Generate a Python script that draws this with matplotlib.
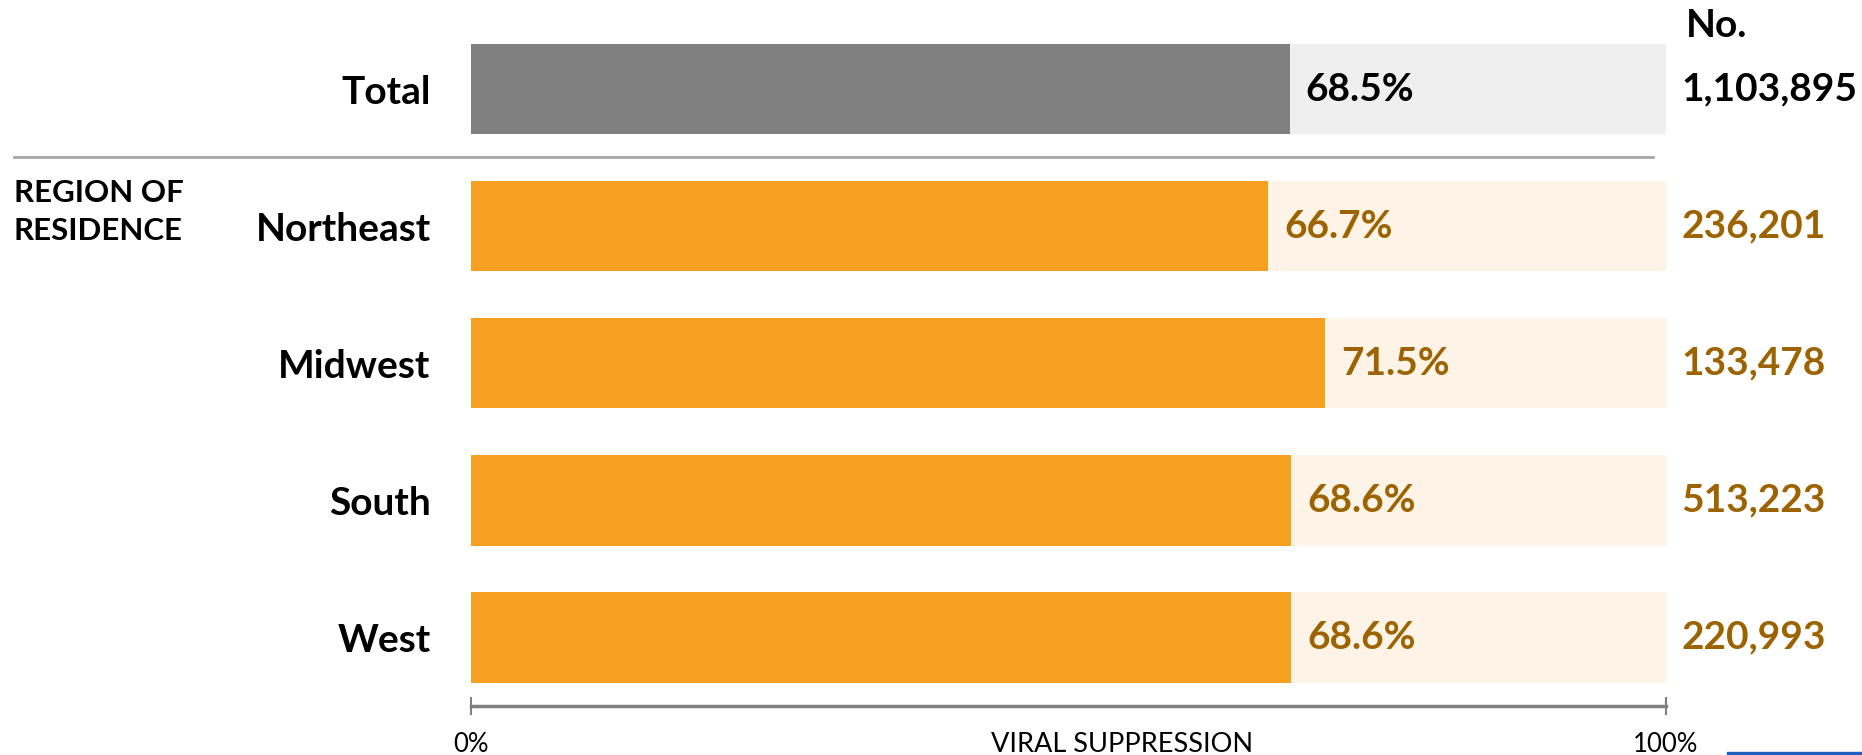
import matplotlib
matplotlib.use("Agg")
import matplotlib.pyplot as plt
from matplotlib.lines import Line2D
from matplotlib.patches import Rectangle

plt.rcParams['font.family'] = ['Lato', 'DejaVu Sans']

categories = ['Total', 'Northeast', 'Midwest', 'South', 'West']
suppression = [68.5, 66.7, 71.5, 68.6, 68.6]
counts = [1103895, 236201, 133478, 513223, 220993]

gray, gray_bg = '#808080', '#efefef'
orange, orange_bg, orange_txt = '#f5a020', '#fdf3e7', '#9c6300'

fig = plt.figure(figsize=(18.62, 7.55), dpi=100)
ax = fig.add_axes([471 / 1862, 1 - 706 / 755, 1195 / 1862, (706 - 20.5) / 755])

ypos = list(range(len(categories)))
for i, (cat, val, n) in enumerate(zip(categories, suppression, counts)):
    main = gray if i == 0 else orange
    bg = gray_bg if i == 0 else orange_bg
    txt = 'black' if i == 0 else orange_txt
    ax.barh(i, 100, height=0.66, color=bg, zorder=1)
    ax.barh(i, val, height=0.66, color=main, zorder=2)
    ax.text(val + 1.35, i, f'{val:.1f}%', va='center', ha='left',
            fontsize=28, fontweight='bold', color=txt)
    ax.text(101.3, i, f'{n:,}', va='center', ha='left',
            fontsize=28, fontweight='bold', color=txt, clip_on=False)

ax.text(101.7, -0.46, 'No.', va='center', ha='left', fontsize=28,
        fontweight='bold', color='black', clip_on=False)

ax.set_xlim(0, 100)
ax.set_ylim(len(categories) - 0.5, -0.5)
ax.set_yticks(ypos)
ax.set_yticklabels(categories, fontsize=28, fontweight='bold')
ax.tick_params(axis='y', length=0, pad=29)

ax.set_xticks([0, 100])
ax.set_xticklabels(['0%', '100%'], fontsize=18.5)
ax.tick_params(axis='x', direction='inout', length=13, width=1.5,
               color='#808080', pad=12)
for s in ['top', 'right', 'left']:
    ax.spines[s].set_visible(False)
ax.spines['bottom'].set_color('#808080')
ax.spines['bottom'].set_linewidth(2.5)
ax.text(54.5, -0.038, 'VIRAL SUPPRESSION', transform=ax.get_xaxis_transform(),
        ha='center', va='top', fontsize=19.5)

# separator between total and regions
fig.add_artist(Line2D([14 / 1862, 1653 / 1862], [1 - 157 / 755] * 2,
                      color='#a6a6a6', lw=2))
fig.text(14 / 1862, 1 - 212 / 755, 'REGION OF\nRESIDENCE', ha='left',
         va='center', fontsize=22.5, fontweight='bold', linespacing=1.45)

# cut-off logo strip at bottom right
fig.add_artist(Rectangle((1727 / 1862, 0), 135 / 1862, 3 / 755,
                         transform=fig.transFigure, color='#1f5fbf'))

fig.savefig('out.png', dpi=100)
